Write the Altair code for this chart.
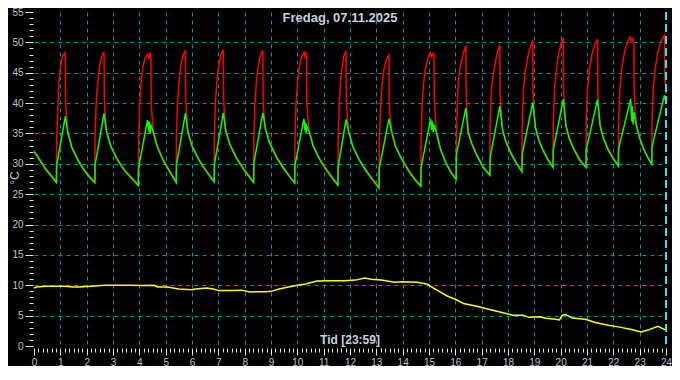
import altair as alt
import pandas as pd

# ---- data (hour of day, °C) ----
red = [
    (0.00, 32.2), (0.19, 31.0), (0.44, 29.3), (0.69, 28.0),
    (0.85, 27.1), (0.86, 34.1), (0.90, 38.5), (0.94, 43.2), (1.00, 45.8), (1.08, 47.8), (1.19, 48.3),
    (1.20, 40.1), (1.24, 37.5), (1.28, 35.4), (1.44, 32.8), (1.69, 30.6), (1.94, 28.9), (2.15, 27.8),
    (2.31, 27.1), (2.32, 35.2), (2.37, 40.6), (2.43, 43.7), (2.49, 46.0), (2.57, 47.6), (2.66, 48.5),
    (2.67, 40.6), (2.71, 37.8), (2.75, 35.5), (2.92, 33.0), (3.17, 30.8), (3.45, 29.0), (3.75, 27.6),
    (3.96, 26.6), (3.97, 33.5), (4.01, 39.5), (4.07, 43.5), (4.14, 46.0), (4.22, 47.5), (4.31, 48.0),
    (4.36, 47.3), (4.40, 48.2), (4.44, 48.0), (4.45, 40.0), (4.49, 37.5), (4.53, 35.4), (4.68, 33.0),
    (4.90, 30.8), (5.15, 28.9),
    (5.40, 27.1), (5.41, 34.5), (5.45, 40.0), (5.51, 43.8), (5.58, 46.3), (5.66, 47.9), (5.75, 48.7),
    (5.76, 40.5), (5.80, 37.8), (5.84, 35.5), (6.00, 33.1), (6.25, 30.9), (6.50, 29.2), (6.70, 28.0),
    (6.84, 27.2), (6.85, 34.8), (6.89, 40.2), (6.95, 44.0), (7.02, 46.4), (7.10, 48.0), (7.19, 48.8),
    (7.20, 40.5), (7.24, 37.8), (7.28, 35.6), (7.44, 33.3), (7.69, 31.1), (7.97, 29.2), (8.20, 27.9),
    (8.34, 27.1), (8.35, 34.5), (8.39, 40.0), (8.45, 43.8), (8.52, 46.3), (8.60, 47.9), (8.69, 48.7),
    (8.70, 40.5), (8.74, 37.8), (8.80, 35.7), (8.95, 33.6), (9.20, 31.3), (9.45, 29.6), (9.75, 27.8),
    (9.90, 27.0), (9.91, 34.0), (9.95, 39.8), (10.01, 43.5), (10.08, 46.0), (10.16, 47.6), (10.25, 48.3),
    (10.28, 47.5), (10.31, 48.3), (10.35, 48.0), (10.36, 40.0), (10.40, 37.5), (10.45, 35.5),
    (10.60, 33.1), (10.85, 30.9), (11.10, 29.2), (11.35, 27.7),
    (11.54, 26.7), (11.55, 33.8), (11.59, 39.8), (11.64, 43.5), (11.70, 46.0), (11.77, 47.8), (11.85, 48.6),
    (11.86, 40.3), (11.90, 37.6), (11.95, 35.5), (12.10, 33.1), (12.35, 30.8), (12.60, 29.1),
    (12.85, 27.6),
    (13.10, 26.2), (13.11, 33.5), (13.16, 39.5), (13.22, 43.2), (13.30, 45.8), (13.39, 47.3), (13.48, 47.9),
    (13.49, 40.0), (13.53, 37.5), (13.58, 35.5), (13.73, 33.0), (13.98, 30.8), (14.23, 29.0),
    (14.48, 27.5),
    (14.69, 26.5), (14.70, 33.8), (14.74, 39.8), (14.80, 43.5), (14.88, 46.0), (14.97, 47.6), (15.06, 48.3),
    (15.10, 47.5), (15.14, 48.2), (15.19, 48.0), (15.20, 40.5), (15.24, 37.8), (15.29, 35.2),
    (15.44, 32.5), (15.64, 30.3), (15.84, 28.7),
    (16.03, 27.6), (16.04, 31.9), (16.07, 39.0), (16.11, 43.4), (16.19, 46.0), (16.29, 48.0), (16.40, 49.5),
    (16.41, 41.3), (16.44, 38.7), (16.49, 35.3), (16.62, 33.5), (16.80, 31.7), (17.06, 29.6),
    (17.19, 28.9),
    (17.31, 28.3), (17.32, 36.5), (17.37, 42.0), (17.44, 44.7), (17.52, 46.8), (17.61, 48.6), (17.69, 49.6),
    (17.70, 41.5), (17.74, 38.5), (17.79, 35.8), (17.92, 33.8), (18.10, 32.0), (18.30, 30.4),
    (18.53, 28.9), (18.54, 36.8), (18.59, 42.3), (18.66, 45.3), (18.75, 47.6), (18.85, 49.3), (18.94, 50.3),
    (18.95, 41.8), (18.99, 38.8), (19.04, 36.2), (19.16, 34.2), (19.33, 32.4), (19.52, 30.8),
    (19.71, 29.6), (19.72, 37.0), (19.77, 42.5), (19.84, 45.6), (19.92, 48.0), (20.01, 49.8), (20.10, 50.7),
    (20.11, 42.0), (20.15, 39.0), (20.20, 36.4), (20.33, 34.3), (20.52, 32.4), (20.74, 30.7),
    (20.96, 29.6), (20.97, 37.5), (21.02, 42.5), (21.10, 45.8), (21.20, 48.2), (21.30, 49.7), (21.40, 50.5),
    (21.41, 42.0), (21.45, 39.0), (21.50, 36.4), (21.62, 34.4), (21.80, 32.5), (22.00, 31.0),
    (22.19, 29.8), (22.20, 37.2), (22.25, 42.5), (22.33, 46.0), (22.43, 48.5), (22.55, 50.2), (22.63, 50.9),
    (22.68, 50.2), (22.72, 50.8), (22.78, 49.5), (22.79, 42.0), (22.83, 39.0), (22.88, 36.4),
    (23.00, 34.4), (23.15, 32.6), (23.32, 31.1),
    (23.46, 30.1), (23.47, 37.5), (23.52, 42.5), (23.60, 46.0), (23.70, 48.5), (23.82, 50.3), (23.94, 51.2),
    (23.95, 45.0), (24.00, 41.5),
]

green = [
    (0.00, 32.0), (0.19, 30.8), (0.44, 29.1), (0.69, 27.8),
    (0.85, 26.9), (0.86, 29.7), (1.19, 37.8), (1.28, 35.2), (1.44, 32.6), (1.69, 30.4), (1.94, 28.7),
    (2.15, 27.6),
    (2.31, 26.9), (2.32, 29.8), (2.66, 38.3), (2.75, 35.3), (2.92, 32.8), (3.17, 30.6), (3.45, 28.8),
    (3.75, 27.4),
    (3.96, 26.4), (3.97, 29.3), (4.31, 37.2), (4.36, 35.3), (4.38, 37.0), (4.41, 34.9), (4.43, 36.5),
    (4.53, 35.2), (4.68, 32.8), (4.90, 30.6), (5.15, 28.7),
    (5.40, 26.9), (5.41, 29.8), (5.75, 38.3), (5.84, 35.3), (6.00, 32.9), (6.25, 30.7), (6.50, 29.0),
    (6.70, 27.8),
    (6.84, 27.0), (6.85, 29.9), (7.19, 38.4), (7.28, 35.4), (7.44, 33.1), (7.69, 30.9), (7.97, 29.0),
    (8.20, 27.7),
    (8.34, 26.9), (8.35, 30.1), (8.69, 38.4), (8.80, 35.5), (8.95, 33.4), (9.20, 31.1), (9.45, 29.4),
    (9.75, 27.6),
    (9.90, 26.8), (9.91, 29.8), (10.25, 37.4), (10.29, 35.5), (10.31, 36.8), (10.33, 35.0), (10.36, 36.2),
    (10.45, 35.3), (10.60, 32.9), (10.85, 30.7), (11.10, 29.0), (11.35, 27.5),
    (11.54, 26.5), (11.55, 29.5), (11.85, 37.3), (11.95, 35.3), (12.10, 32.9), (12.35, 30.6),
    (12.60, 28.9), (12.85, 27.4),
    (13.10, 26.0), (13.11, 29.2), (13.48, 37.4), (13.58, 35.3), (13.73, 32.8), (13.98, 30.6),
    (14.23, 28.8), (14.48, 27.3),
    (14.69, 26.3), (14.70, 29.4), (15.06, 37.4), (15.10, 35.6), (15.13, 37.0), (15.16, 35.2),
    (15.19, 36.5), (15.29, 35.0), (15.44, 32.3), (15.64, 30.1), (15.84, 28.5),
    (16.03, 27.4), (16.04, 31.5), (16.40, 39.2), (16.49, 35.1), (16.62, 33.3), (16.80, 31.5),
    (17.06, 29.4), (17.19, 28.7),
    (17.31, 28.1), (17.32, 31.0), (17.69, 39.5), (17.79, 35.6), (17.92, 33.6), (18.10, 31.8),
    (18.30, 30.2),
    (18.53, 28.7), (18.54, 31.6), (18.94, 40.1), (19.04, 36.0), (19.16, 34.0), (19.33, 32.2),
    (19.52, 30.6),
    (19.71, 29.4), (19.72, 32.3), (20.10, 40.6), (20.20, 36.2), (20.33, 34.1), (20.52, 32.2),
    (20.74, 30.5),
    (20.96, 29.4), (20.97, 32.3), (21.40, 40.6), (21.50, 36.2), (21.62, 34.2), (21.80, 32.3),
    (22.00, 30.8),
    (22.19, 29.6), (22.20, 32.5), (22.66, 40.7), (22.70, 37.0), (22.72, 39.5), (22.75, 36.5),
    (22.78, 38.5), (22.88, 36.2), (23.00, 34.2), (23.15, 32.4), (23.32, 30.9),
    (23.46, 29.9), (23.47, 32.8), (23.94, 41.3), (24.00, 40.0),
]

yellow = [
    (0.00, 9.54), (0.10, 9.70), (0.44, 9.85), (1.20, 9.85), (1.50, 9.70), (1.72, 9.70), (2.15, 9.85),
    (2.69, 10.0), (3.62, 10.0), (4.10, 9.95), (4.56, 10.0), (4.69, 9.70), (5.06, 9.70), (5.50, 9.40),
    (6.00, 9.25), (6.13, 9.38), (6.56, 9.54), (6.81, 9.38), (7.00, 9.12), (7.56, 9.12), (7.88, 9.20),
    (8.19, 8.90), (8.81, 8.95), (9.00, 9.00), (9.31, 9.40), (9.94, 9.96), (10.31, 10.2), (10.75, 10.7),
    (11.30, 10.74), (11.81, 10.74), (12.20, 10.85), (12.56, 11.2), (12.81, 11.0), (13.19, 10.85),
    (13.69, 10.5), (14.00, 10.6), (14.56, 10.5), (14.94, 10.17), (15.19, 9.50), (15.40, 8.96),
    (15.69, 8.23), (16.00, 7.70), (16.31, 7.00), (16.81, 6.55), (17.19, 6.13), (17.69, 5.60),
    (18.19, 5.08), (18.56, 5.08), (18.81, 4.72), (19.19, 4.82), (19.44, 4.56), (19.81, 4.40),
    (19.95, 4.30), (20.06, 5.08), (20.19, 5.19), (20.44, 4.60), (20.94, 4.40), (21.31, 3.88),
    (21.81, 3.41), (22.19, 3.15), (22.69, 2.73), (23.06, 2.31), (23.31, 2.62), (23.69, 3.25),
    (24.00, 2.62),
]

x_ticks = [i / 6 for i in range(0, 145)]   # 10-minute ticks, labels each hour
y_ticks = list(range(0, 56))               # 1 °C ticks, labels each 5
marker_hour = [24]
title_text = "Fredag, 07.11.2025"
x_title_text = "Tid [23:59]"
y_title_text = "°C"

# ---- build table ----
rows = []
for name, pts in (("red", red), ("green", green), ("yellow", yellow)):
    for i, (t, v) in enumerate(pts):
        rows.append({"series": name, "t": t, "v": v, "i": i})
df = pd.DataFrame(rows)

LABEL = "#b4c4dc"
GRID = "#00959a"
FONT = "Liberation Sans"
is_hour = "abs(datum.value - round(datum.value)) < 0.01"

xscale = alt.Scale(domain=[0, 24], nice=False, zero=False)
yscale = alt.Scale(domain=[0, 55], nice=False, zero=False)

xaxis = alt.Axis(
    values=x_ticks,
    labelExpr=f"{is_hour} ? format(round(datum.value), 'd') : ''",
    tickSize={"condition": {"test": is_hour, "value": 7}, "value": 4},
    grid=True,
    gridOpacity={"condition": {"test": f"{is_hour} && datum.value > 0.5 && datum.value < 23.5", "value": 1}, "value": 0},
    gridColor=GRID, gridDash=[4, 4], gridWidth=1,
    domain=False, tickColor="#e6e6e6", tickWidth=1,
    labelColor=LABEL, labelFont=FONT, labelFontSize=10,
    labelOverlap=False, labelFlush=False, labelPadding=2,
    offset=2, title=None,
)
yaxis = alt.Axis(
    values=y_ticks,
    labelExpr="datum.value % 5 === 0 ? datum.label : ''",
    tickSize={"condition": {"test": "datum.value % 5 === 0", "value": 8}, "value": 4},
    grid=True,
    gridOpacity={"condition": {"test": "datum.value % 5 === 0 && datum.value > 0 && datum.value < 55", "value": 1}, "value": 0},
    gridColor=GRID, gridDash=[4, 4], gridWidth=1,
    domain=False, tickColor="#e6e6e6", tickWidth=1,
    labelColor=LABEL, labelFont=FONT, labelFontSize=10,
    labelOverlap=False, labelPadding=2,
    offset=1, title=None,
)

base = alt.Chart(df)

def series_line(name, color):
    return base.transform_filter(alt.datum.series == name).mark_line(
        color=color, strokeWidth=1.5
    ).encode(
        x=alt.X("t:Q", scale=xscale, axis=xaxis),
        y=alt.Y("v:Q", scale=yscale, axis=yaxis),
        order=alt.Order("i:Q"),
    )

red_line = series_line("red", "#ff0000")
green_line = series_line("green", "#00ff00")
yellow_line = series_line("yellow", "#ffff00")

marker = alt.Chart(pd.DataFrame({"t": marker_hour})).mark_rule(
    color="#30e0f0", strokeWidth=2, strokeDash=[8, 4]
).encode(x=alt.X("t:Q", scale=xscale, axis=xaxis))

one = pd.DataFrame({"a": [0]})
title = alt.Chart(one).mark_text(
    text=title_text, font=FONT, fontSize=13, fontWeight="bold", color="#c8d0e0",
    align="center", baseline="middle",
).encode(x=alt.value(306), y=alt.value(6))
xtitle = alt.Chart(one).mark_text(
    text=x_title_text, font=FONT, fontSize=12, fontWeight="bold", color="#c8d0e0",
    align="center", baseline="middle",
).encode(x=alt.value(316), y=alt.value(328))
ytitle = alt.Chart(one).mark_text(
    text=y_title_text, font=FONT, fontSize=12, color=LABEL, angle=270,
    align="center", baseline="middle",
).encode(x=alt.value(-19), y=alt.value(166))

chart = alt.layer(
    red_line, green_line, yellow_line, marker, title, xtitle, ytitle
).properties(
    width=632, height=334,
    autosize=alt.AutoSizeParams(type="none"),
    padding={"left": 26, "top": 4, "right": 6, "bottom": 20},
    background="#000000",
).configure_view(stroke=None)

chart.save("out.html", embed_options={"renderer": "svg", "actions": False})
